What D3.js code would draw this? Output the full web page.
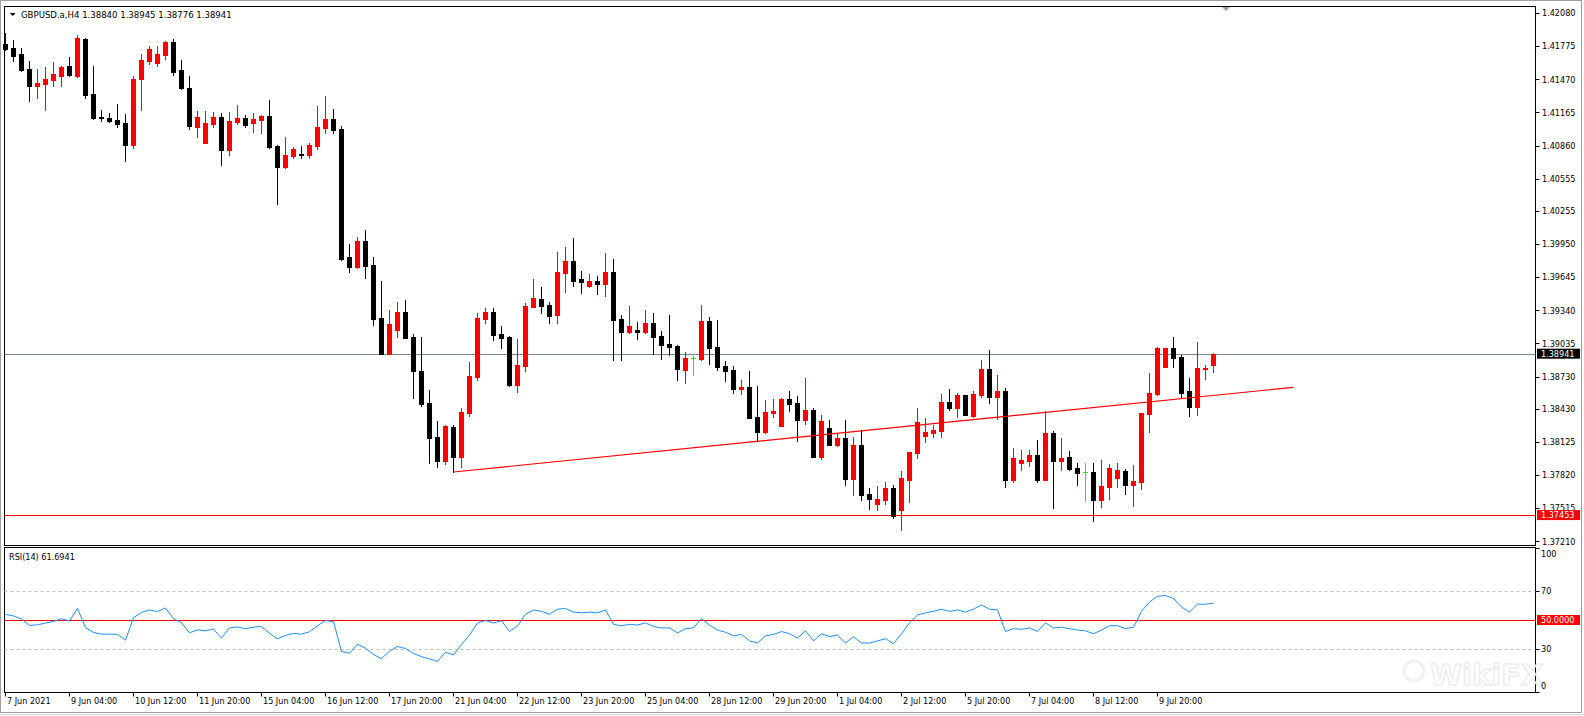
<!DOCTYPE html>
<html>
<head>
<meta charset="utf-8">
<script src="https://cdn.jsdelivr.net/npm/d3@7"></script>
<style>
  body { margin: 0; background: #fff; }
  svg text { font-family: "DejaVu Sans Condensed", "DejaVu Sans", sans-serif; font-size: 9px; fill: #000; }
</style>
</head>
<body>
<svg id="chart" width="1584" height="716">
  <g id="frame"></g>
  <g id="watermark"></g>
  <g id="levels"></g>
  <g id="candles"></g>
  <g id="lines"></g>
  <g id="rsi"></g>
  <g id="axes"></g>
</svg>
<script>
// GBPUSD.a H4, one value per bar
let open = [1.41796,1.41759,1.41704,1.41566,1.41409,1.41428,1.41464,1.41501,1.41593,1.41501,
  1.41842,1.41335,1.41123,1.41114,1.41096,1.41068,1.40865,1.41474,1.41640,1.41621,
  1.41695,1.41815,1.41557,1.41391,1.41031,1.40884,1.41059,1.41123,1.40819,1.41077,
  1.41114,1.41068,1.41096,1.41133,1.40856,1.40662,1.40764,1.40782,1.40773,1.40856,
  1.41022,1.41105,1.41013,1.39832,1.39740,1.39980,1.39759,1.39270,1.38938,1.39159,
  1.39325,1.39095,1.38781,1.38486,1.38173,1.37952,1.38265,1.37988,1.38394,1.38726,
  1.39261,1.39325,1.39123,1.39095,1.38652,1.38827,1.39371,1.39445,1.39390,1.39298,
  1.39685,1.39798,1.39630,1.39565,1.39611,1.39584,1.39694,1.39261,1.39141,1.39159,
  1.39141,1.39224,1.39104,1.39030,1.39012,1.38791,1.38899,1.38892,1.39242,1.39003,
  1.38827,1.38791,1.38615,1.38634,1.38357,1.38219,1.38394,1.38274,1.38523,1.38486,
  1.38330,1.38422,1.37988,1.38256,1.38099,1.38164,1.37786,1.38099,1.37647,1.37555,
  1.37592,1.37703,1.37500,1.37776,1.38025,1.38182,1.38210,1.38228,1.38496,1.38440,
  1.38558,1.38367,1.38560,1.38800,1.38541,1.38597,1.37776,1.37933,1.37952,1.38007,
  1.37776,1.38210,1.37952,1.37988,1.37887,1.37850,1.37850,1.37592,1.37712,1.37795,
  1.37859,1.37730,1.37758,1.38385,1.38569,1.38818,1.38994,1.38910,1.38597,1.38450,
  1.38800,1.38840]
let high = [1.41898,1.41833,1.41759,1.41640,1.41566,1.41584,1.41630,1.41593,1.41676,1.41879,
  1.41852,1.41593,1.41188,1.41160,1.41243,1.41151,1.41501,1.41704,1.41778,1.41778,
  1.41824,1.41842,1.41649,1.41501,1.41179,1.41179,1.41169,1.41160,1.41169,1.41234,
  1.41142,1.41160,1.41142,1.41280,1.40865,1.40939,1.40847,1.40856,1.40884,1.41225,
  1.41317,1.41197,1.41040,1.39952,1.40017,1.40081,1.39832,1.39611,1.39344,1.39418,
  1.39436,1.39123,1.39095,1.38606,1.38320,1.38284,1.38284,1.38440,1.38866,1.39316,
  1.39362,1.39362,1.39196,1.39100,1.39076,1.39408,1.39630,1.39556,1.39418,1.39875,
  1.39929,1.40008,1.39704,1.39676,1.39657,1.39866,1.39814,1.39298,1.39381,1.39233,
  1.39344,1.39316,1.39150,1.39298,1.39021,1.38957,1.38920,1.39390,1.39279,1.39252,
  1.38874,1.38827,1.38698,1.38781,1.38643,1.38514,1.38523,1.38532,1.38597,1.38551,
  1.38717,1.38440,1.38376,1.38330,1.38210,1.38330,1.38173,1.38237,1.37703,1.37721,
  1.37758,1.37730,1.37859,1.38035,1.38440,1.38348,1.38284,1.38569,1.38615,1.38579,
  1.38563,1.38597,1.38883,1.38975,1.38745,1.38625,1.38071,1.38053,1.38053,1.38145,
  1.38413,1.38228,1.38164,1.38044,1.37933,1.37933,1.37933,1.37961,1.37924,1.37933,
  1.37878,1.37915,1.38397,1.38763,1.39003,1.38998,1.39095,1.38929,1.38717,1.39049,
  1.38837,1.38945]
let low = [1.41741,1.41640,1.41547,1.41271,1.41298,1.41188,1.41409,1.41409,1.41501,1.41492,
  1.41298,1.41105,1.41086,1.41077,1.41031,1.40718,1.40837,1.41188,1.41612,1.41593,
  1.41658,1.41510,1.41381,1.41013,1.40939,1.40884,1.41031,1.40681,1.40773,1.41059,
  1.41031,1.40985,1.40976,1.40837,1.40321,1.40653,1.40745,1.40745,1.40745,1.40828,
  1.40976,1.40976,1.39808,1.39694,1.39731,1.39639,1.39206,1.38935,1.38935,1.39095,
  1.39084,1.38532,1.38459,1.37933,1.37896,1.37924,1.37850,1.37896,1.38367,1.38698,
  1.39224,1.39067,1.38994,1.38643,1.38588,1.38781,1.39369,1.39316,1.39224,1.39224,
  1.39510,1.39565,1.39500,1.39556,1.39491,1.39473,1.38883,1.38883,1.39132,1.39076,
  1.39136,1.38938,1.38892,1.38929,1.38698,1.38671,1.38745,1.38883,1.38846,1.38791,
  1.38689,1.38579,1.38569,1.38345,1.38136,1.38210,1.38357,1.38270,1.38413,1.38136,
  1.38293,1.37985,1.37970,1.38096,1.38090,1.37730,1.37638,1.37592,1.37509,1.37500,
  1.37555,1.37426,1.37315,1.37574,1.37979,1.38127,1.38173,1.38173,1.38422,1.38357,
  1.38373,1.38357,1.38541,1.38486,1.38339,1.37712,1.37758,1.37869,1.37905,1.37758,
  1.37772,1.37518,1.37869,1.37869,1.37730,1.37583,1.37398,1.37527,1.37601,1.37712,
  1.37647,1.37537,1.37693,1.38219,1.38560,1.38815,1.38815,1.38541,1.38367,1.38376,
  1.38708,1.38776]
let close = [1.41750,1.41686,1.41557,1.41409,1.41437,1.41474,1.41520,1.41584,1.41510,1.41852,
  1.41326,1.41114,1.41114,1.41086,1.41059,1.40865,1.41474,1.41649,1.41750,1.41704,
  1.41815,1.41538,1.41391,1.41040,1.41123,1.41068,1.41123,1.40819,1.41086,1.41114,
  1.41050,1.41105,1.41133,1.40847,1.40662,1.40773,1.40828,1.40773,1.40865,1.41031,
  1.41105,1.41003,1.39814,1.39740,1.39980,1.39749,1.39261,1.38938,1.39215,1.39325,
  1.39086,1.38781,1.38477,1.38164,1.37952,1.38274,1.37988,1.38403,1.38735,1.39270,
  1.39325,1.39113,1.39086,1.38652,1.38837,1.39381,1.39454,1.39381,1.39288,1.39694,
  1.39798,1.39611,1.39602,1.39611,1.39584,1.39694,1.39252,1.39141,1.39196,1.39141,
  1.39224,1.39095,1.39021,1.39003,1.38800,1.38901,1.38899,1.39242,1.38994,1.38818,
  1.38781,1.38615,1.38634,1.38348,1.38219,1.38403,1.38413,1.38523,1.38477,1.38330,
  1.38422,1.37988,1.38320,1.38099,1.38164,1.37786,1.38099,1.37638,1.37601,1.37601,
  1.37703,1.37444,1.37795,1.38030,1.38311,1.38219,1.38237,1.38496,1.38440,1.38560,
  1.38376,1.38569,1.38800,1.38541,1.38597,1.37776,1.37979,1.37961,1.38007,1.37776,
  1.38210,1.37952,1.37979,1.37878,1.37841,1.37850,1.37592,1.37721,1.37887,1.37869,
  1.37730,1.37767,1.38394,1.38579,1.38994,1.38994,1.38901,1.38579,1.38450,1.38809,
  1.38809,1.38941]
let rsi = [53.9,52.8,50.7,46.2,46.7,47.9,49.0,50.9,49.3,58.1,
  44.6,41.4,40.2,40.2,40.0,36.0,51.6,55.3,57.0,55.8,
  58.4,50.9,48.1,41.1,43.2,42.5,43.7,37.4,44.6,45.1,
  43.9,45.1,45.5,40.7,36.9,39.3,40.7,40.2,41.8,46.0,
  49.7,48.8,28.1,26.9,33.2,30.4,26.0,23.2,28.3,31.6,
  30.2,26.7,24.6,23.0,21.3,27.6,25.8,33.0,39.5,47.9,
  49.7,47.9,49.5,42,46,54,57,56,54,57.5,
  58,55.5,55,55.5,55,57,47,46,47,46.5,
  48,45.5,44.5,44.5,41,44,44.5,51,46.5,43,
  41.5,39,40,35.5,34,39,40,42,40.5,37.5,
  42.5,35.5,40.5,38.5,39.5,34,38.5,34,34,35.5,
  37,33.5,40.5,48,53.5,55,56,57.5,56,57,
  55.5,57.5,60.5,57.5,57,42,44,43.5,44.5,42,
  48,44.5,45,44,43,42.5,40.5,43,46,46,
  44,45,56,62.5,66.5,67,65,59,55.5,61,
  61,61.6941]

let price_ticks = [1.42080,1.41775,1.41470,1.41165,1.40860,1.40555,1.40255,1.39950,1.39645,
  1.39340,1.39035,1.38730,1.38430,1.38125,1.37820,1.37515,1.37210]
let rsi_ticks = [100, 70, 30, 0]
let rsi_dashed = [70, 30]
let date_labels = ["7 Jun 2021","9 Jun 04:00","10 Jun 12:00","11 Jun 20:00","15 Jun 04:00",
  "16 Jun 12:00","17 Jun 20:00","21 Jun 04:00","22 Jun 12:00","23 Jun 20:00","25 Jun 04:00",
  "28 Jun 12:00","29 Jun 20:00","1 Jul 04:00","2 Jul 12:00","5 Jul 20:00","7 Jul 04:00",
  "8 Jul 12:00","9 Jul 20:00"]
let date_label_bar = [0,8,16,24,32,40,48,56,64,72,80,88,96,104,112,120,128,136,144]

let bid_price = 1.38941
let support_price = 1.37453
let rsi_level = 50
let trend_bar = [56, 161]
let trend_price = [1.37850, 1.38631]

let main = {left: 4.5, right: 1535.5, top: 6.5, bottom: 545.5},
    sub = {top: 547.5, bottom: 692.5}

function make_scales() {
  return {
    x: d3.scaleLinear().domain([0, 151]).range([5.5, 5.5 + 8 * 151]),
    y: d3.scaleLinear().domain([1.37177, 1.42147]).range([545, 6]),
    r: d3.scaleLinear().domain([0, 100]).range([692, 548])
  }
}

function draw_frame() {
  let g = d3.select("#frame")
  g.append("rect").attr("x", 0).attr("y", 0).attr("width", 1584).attr("height", 716).attr("fill", "#fff")
  // window border
  g.append("rect").attr("x", 0.5).attr("y", 0.5).attr("width", 1581).attr("height", 712)
    .attr("fill", "none").attr("stroke", "#a0a0a0")
  g.append("line").attr("x1", 0).attr("x2", 1584).attr("y1", 714.5).attr("y2", 714.5).attr("stroke", "#d4d4d4")
  g.append("rect").attr("x", main.left).attr("y", main.top)
    .attr("width", main.right - main.left).attr("height", main.bottom - main.top)
    .attr("fill", "none").attr("stroke", "#000")
  g.append("rect").attr("x", main.left).attr("y", sub.top)
    .attr("width", main.right - main.left).attr("height", sub.bottom - sub.top)
    .attr("fill", "none").attr("stroke", "#000")
  // chart shift marker
  g.append("path").attr("d", "M1222,7 L1230,7 L1226,11 Z").attr("fill", "#a0a0a0")
}

function draw_watermark() {
  // faint logo in the indicator window, kept left of the axis labels
  let g = d3.select("#watermark")
  g.append("circle").attr("cx", 1414).attr("cy", 671).attr("r", 10)
    .attr("fill", "none").attr("stroke", "#f0f0f0").attr("stroke-width", 3)
  g.append("text").attr("x", 1430).attr("y", 685).text("WikiFX")
    .style("font-size", "29px").style("font-weight", "bold").style("font-family", "DejaVu Sans")
    .style("fill", "none").style("stroke", "#eeeeee").style("stroke-width", 1.5)
}

function draw_levels(scales) {
  let g = d3.select("#levels")
  g.append("line").attr("x1", main.left).attr("x2", main.right)
    .attr("y1", Math.round(scales.y(bid_price)) + 0.5).attr("y2", Math.round(scales.y(bid_price)) + 0.5)
    .attr("stroke", "#7a8796")
  g.append("line").attr("x1", main.left).attr("x2", main.right)
    .attr("y1", Math.round(scales.y(support_price)) + 0.5).attr("y2", Math.round(scales.y(support_price)) + 0.5)
    .attr("stroke", "#ff0000")
}

function candle_color(i) {
  if (close[i] > open[i]) return "#ff0000"
  if (close[i] < open[i]) return "#000000"
  return "#00ff00"
}

function draw_candles(scales) {
  let idx = d3.range(open.length)
  let g = d3.select("#candles").selectAll("g").data(idx).enter().append("g")

  g.append("line")
    .attr("x1", i => scales.x(i)).attr("x2", i => scales.x(i))
    .attr("y1", i => Math.round(scales.y(high[i])))
    .attr("y2", i => Math.round(scales.y(low[i])) + 1)
    .attr("stroke", candle_color)

  g.append("rect")
    .attr("x", i => scales.x(i) - 2.5)
    .attr("y", i => Math.round(scales.y(Math.max(open[i], close[i]))))
    .attr("width", 5)
    .attr("height", i => Math.max(1, Math.round(scales.y(Math.min(open[i], close[i]))) - Math.round(scales.y(Math.max(open[i], close[i]))) + 1))
    .attr("fill", candle_color)
}

function draw_trend(scales) {
  d3.select("#lines").append("line")
    .attr("x1", scales.x(trend_bar[0])).attr("y1", scales.y(trend_price[0]))
    .attr("x2", scales.x(trend_bar[1])).attr("y2", scales.y(trend_price[1]))
    .attr("stroke", "#ff0000").attr("stroke-width", 1.2)
}

function draw_rsi(scales) {
  let g = d3.select("#rsi")
  g.selectAll("line.dash").data(rsi_dashed).enter().append("line")
    .attr("class", "dash")
    .attr("x1", main.left).attr("x2", main.right)
    .attr("y1", d => Math.round(scales.r(d)) + 0.5).attr("y2", d => Math.round(scales.r(d)) + 0.5)
    .attr("stroke", "#c0c0c0").attr("stroke-dasharray", "3,3")
  g.append("line").attr("x1", main.left).attr("x2", main.right)
    .attr("y1", Math.round(scales.r(rsi_level)) + 0.5).attr("y2", Math.round(scales.r(rsi_level)) + 0.5)
    .attr("stroke", "#ff0000")

  let path_generator = d3.line()
    .x((d, i) => scales.x(i))
    .y(d => scales.r(d))
  g.append("path").datum(rsi)
    .attr("d", path_generator)
    .attr("fill", "none").attr("stroke", "#1e90ff").attr("stroke-width", 1)

  g.append("text").attr("x", 9).attr("y", 560)
    .text("RSI(14) " + rsi[rsi.length - 1].toFixed(4))
}

function price_tag(g, y, label, fill) {
  g.append("rect").attr("x", 1537).attr("y", y - 5).attr("width", 43).attr("height", 10).attr("fill", fill)
  g.append("text").attr("x", 1541).attr("y", y).attr("dy", "0.35em").text(label).style("fill", "#fff")
}

function draw_axes(scales) {
  let g = d3.select("#axes")

  // header
  g.append("path").attr("d", "M10,13 L15.5,13 L12.75,16 Z").attr("fill", "#000")
  g.append("text").attr("x", 21).attr("y", 15).attr("dy", "0.35em").style("font-size", "9.5px")
    .text("GBPUSD.a,H4  " + [open, high, low, close].map(a => a[a.length - 1].toFixed(5)).join(" "))

  // price axis
  let py = g.selectAll("g.py").data(price_ticks).enter().append("g").attr("class", "py")
  py.append("line").attr("x1", main.right).attr("x2", main.right + 4)
    .attr("y1", d => Math.round(scales.y(d)) + 0.5).attr("y2", d => Math.round(scales.y(d)) + 0.5)
    .attr("stroke", "#000")
  py.append("text").attr("x", 1542).attr("y", d => scales.y(d)).attr("dy", "0.35em")
    .text(d => d.toFixed(5))

  price_tag(g, scales.y(bid_price), bid_price.toFixed(5), "#000")
  price_tag(g, scales.y(support_price), support_price.toFixed(5), "#ff0000")

  // rsi axis
  let ry = g.selectAll("g.ry").data(rsi_ticks).enter().append("g").attr("class", "ry")
  ry.append("line").attr("x1", main.right).attr("x2", main.right + 4)
    .attr("y1", d => Math.round(scales.r(d)) + 0.5).attr("y2", d => Math.round(scales.r(d)) + 0.5)
    .attr("stroke", "#000")
  ry.append("text").attr("x", 1541)
    .attr("y", d => d == 100 ? scales.r(d) + 6 : d == 0 ? scales.r(d) - 6 : scales.r(d))
    .attr("dy", "0.35em").text(d => d)
  price_tag(g, scales.r(rsi_level), rsi_level.toFixed(4), "#ff0000")

  // time axis
  let tx = g.selectAll("g.tx").data(date_label_bar).enter().append("g").attr("class", "tx")
  tx.append("line").attr("x1", d => Math.round(scales.x(d)) - 1 + 0.5).attr("x2", d => Math.round(scales.x(d)) - 1 + 0.5)
    .attr("y1", sub.bottom).attr("y2", sub.bottom + 4).attr("stroke", "#000")
  tx.append("text").attr("x", d => Math.round(scales.x(d)) + 1).attr("y", 704)
    .text((d, i) => date_labels[i])
}

let scales = make_scales()
draw_frame()
draw_watermark()
draw_levels(scales)
draw_candles(scales)
draw_trend(scales)
draw_rsi(scales)
draw_axes(scales)
</script>
</body>
</html>
